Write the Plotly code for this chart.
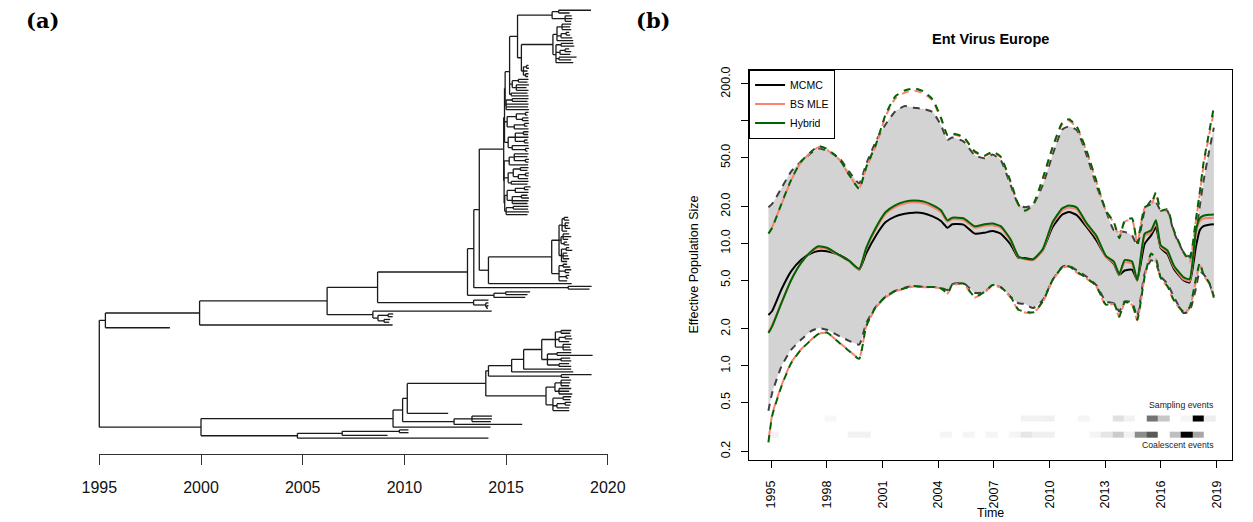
import plotly.graph_objects as go

W, H = 1253, 522

# ---------------- panel (a): dated tree ----------------
# internal node = [date, child, child, ...]; tip = sampling date
T1 = [2017.26, [2017.58, 2019.17, 2018.12], [2017.9, 2018.22, 2018.25, 2018.2]]
T2 = [2017.3,
      [2017.5, [2017.75, 2018.2, 2018.15, 2018.2], [2017.7, [2017.95, 2018.1, 2018.15], 2018.25], 2018.3],
      [2017.45, [2017.7, 2018.3, 2018.35], [2017.65, [2017.9, 2018.1, 2018.2], 2018.15], [2017.6, 2018.46, 2018.2], 2018.3]]
R_ = [2015.75, T2, [2015.85, [2016.0, 2016.1, 2016.12], 2016.05, [2015.95, 2016.1, 2016.08]]]
Q_ = [2015.56, T1, R_]
UP = [2015.17, Q_, [2015.3, [2015.6, 2016.1, 2016.05], [2015.5, 2016.12, 2016.0, 2016.1]], [2015.25, 2016.05, 2016.1]]
M1 = [2015.0, [2015.3, 2016.1, 2016.05], 2016.1, 2016.08, 2016.12]
M2 = [2015.05, [2015.5, [2015.95, 2016.1, 2016.05], [2015.8, 2016.1, 2016.1]], [2015.4, [2015.9, 2016.12, 2016.05], 2016.1]]
M3 = [2015.1, [2015.45, [2015.85, 2016.1, 2016.08], 2016.1, [2015.9, 2016.05, 2016.1]], [2015.3, 2016.1, [2015.95, 2016.12, 2016.05]]]
M4 = [2015.15, [2015.4, 2016.1, 2016.05, [2015.95, 2016.12, 2016.1]], 2016.08]
M5 = [2015.1, [2015.35, [2015.7, 2016.1, 2016.05], [2015.6, [2015.95, 2016.12, 2016.1], 2016.08]], [2015.25, 2016.1, 2016.05]]
M6 = [2015.05, [2015.45, [2015.9, 2016.2, 2016.1], 2016.1], [2015.3, [2015.75, 2016.05, 2016.12], 2016.1, 2016.05]]
M7 = [2015.0, [2015.35, 2016.1, 2016.08], 2016.12, 2016.05]
BIG = [2014.88, [2014.92, [2014.95, UP, M1], M2, M3], [2014.9, M4, M5, [2014.93, M6, M7]]]
C20 = [2017.24,
       [2017.6,
        [2017.75, [2017.85, 2018.05, 2018.1], [2017.9, 2018.1, 2018.05, 2018.15], 2018.0],
        [2017.7, [2017.8, 2018.1, 2018.2, 2018.05], [2017.85, 2018.0, 2018.1]],
        [2017.72, [2017.95, 2018.1, 2018.25], [2017.8, 2018.0, 2018.05, 2018.1], 2018.0]],
       [2017.6, [2017.8, 2018.0, 2018.15], [2017.9, 2018.2, 2018.1], [2017.95, 2018.1, 2018.05], 2018.0]]
A10 = [2014.13, C20, 2018.22]
A9 = [2013.68, BIG, A10]
A7 = [2013.41, A9, [2018.05, 2019.2, 2019.1]]
A8 = [2014.4, [2014.98, 2016.18, 2016.05], 2015.94]
A5 = [2013.1, A7, A8]
A6 = [2013.4, 2014.13, [2014.0, 2014.13, [2014.05, 2014.13, 2014.1]]]
A3 = [2008.68, A5, A6]
A4 = [2008.45, 2014.29, [2008.7, [2009.2, 2009.45, 2009.42], [2009.0, 2009.3, 2009.25]]]
A2 = [2006.2, A3, A4]
A1 = [1999.93, A2, 2009.42]
A_ = [1995.3, A1, 1998.47]

C14 = [2016.75,
       [2017.42, [2017.7, 2018.2, 2018.15], [2017.6, [2017.9, 2018.2, 2018.25], 2018.1], [2017.8, 2018.2, 2018.15, 2018.2]],
       [2017.03, [2017.5, 2018.2, 2019.25], [2017.7, 2018.15, 2018.2], [2017.6, 2018.1, 2018.2]]]
B8 = [2015.86, C14, 2018.2]
B9 = [2015.27, B8, 2018.3]
B7 = [2014.13, B9, [2017.71, 2019.2, 2018.1]]
C15 = [2016.96,
       [2017.4, [2017.7, 2018.2, 2018.15, 2018.1], [2017.6, 2018.2, 2018.1, 2018.25]],
       [2017.3, [2017.8, 2018.2, 2018.15], [2017.5, [2017.9, 2018.2, 2018.15], 2018.1], 2018.1]]
B6 = [2014.0, B7, C15]
B4 = [2010.14, B6, 2012.15]
B5 = [2012.44, [2013.32, 2014.3, 2014.3, 2014.25], 2015.79]
B3 = [2009.91, B4, B5]
B1 = [2009.44, B3, 2014.23]
B2 = [2004.74, [2006.94, [2009.75, 2010.2, 2010.2], 2009.17], 2014.13]
B_ = [2000.0, B1, B2]
TREE = [1995.0, A_, B_]

TREE_TICKS = [1995, 2000, 2005, 2010, 2015, 2020]

# ---------------- panel (b): skyline ----------------
YEARS = [1994.85, 1995.05, 1995.55, 1996.07, 1996.6, 1997.12, 1997.55, 1998.0, 1998.69, 1999.2,
         1999.74, 2000.12, 2000.65, 2001.17, 2001.7, 2002.2, 2002.7, 2003.2, 2003.7, 2004.15,
         2004.5, 2004.76, 2005.36, 2005.97, 2006.49, 2006.93, 2007.37, 2007.9, 2008.33, 2008.68,
         2009.12, 2009.64, 2010.16, 2010.69, 2011.05, 2011.47, 2012.0, 2012.52, 2013.04, 2013.47,
         2013.76, 2014.05, 2014.45, 2014.73, 2015.13, 2015.48, 2015.74, 2016.0, 2016.35, 2016.7,
         2017.22, 2017.55, 2017.9, 2018.1, 2018.3, 2018.6, 2018.86]
MCMC_MED = [2.6, 2.8, 4.2, 5.9, 7.3, 8.25, 8.65, 8.6, 8.0, 7.2,
            6.1, 8.3, 11.6, 14.9, 16.6, 17.4, 17.8, 17.6, 16.6, 15.2,
            13.4, 14.3, 14.2, 12.0, 12.2, 12.6, 12.0, 9.8, 7.6, 7.6,
            7.4, 8.8, 13.5, 17.2, 18.0, 17.0, 13.6, 10.6, 7.8, 6.8,
            5.5, 6.0, 6.1, 5.0, 9.9, 11.6, 13.5, 9.1, 8.2, 6.2,
            5.0, 4.8, 9.5, 12.8, 13.8, 14.2, 14.3]
BS_MED = [1.9, 2.15, 3.3, 5.0, 6.9, 8.4, 9.2, 9.0, 7.9, 7.1,
          6.1, 9.0, 13.1, 17.4, 19.8, 21.1, 21.6, 21.2, 19.8, 18.0,
          15.0, 15.7, 15.5, 13.4, 13.9, 14.0, 13.4, 10.5, 7.7, 7.4,
          7.3, 8.8, 14.3, 18.6, 19.6, 18.9, 14.1, 11.2, 7.7, 6.9,
          5.5, 7.0, 6.8, 4.9, 11.5, 12.3, 14.8, 9.3, 8.5, 6.4,
          5.1, 4.9, 12.4, 15.1, 15.9, 16.1, 16.2]
HY_MED = [1.85, 2.1, 3.25, 5.0, 6.9, 8.5, 9.45, 9.2, 8.0, 7.2,
          6.2, 9.2, 13.5, 18.0, 20.5, 21.9, 22.4, 22.0, 20.5, 18.6,
          15.4, 16.2, 16.0, 13.8, 14.3, 14.5, 13.8, 10.8, 7.8, 7.5,
          7.4, 9.0, 14.8, 19.3, 20.4, 19.6, 14.6, 11.6, 7.9, 7.1,
          5.6, 7.3, 7.1, 5.0, 12.0, 12.8, 15.4, 9.6, 8.8, 6.6,
          5.3, 5.1, 13.0, 16.0, 16.8, 17.1, 17.2]
MCMC_HI = [19.7, 21.0, 28.2, 38.5, 46.4, 54.2, 59.4, 57.0, 49.4, 38.5,
           30.9, 44.4, 68.6, 93.7, 120, 132, 128, 125, 118, 92,
           70, 73, 68, 52.5, 49.4, 53, 47.8, 30, 20.7, 19.7,
           20.7, 30, 52.5, 85, 90, 84, 52.5, 30, 18.5, 12.8,
           12.6, 12.4, 11.6, 9.6, 18.5, 22.3, 21.7, 18.5, 18.5, 12.4,
           8.5, 7.8, 12.4, 20, 32, 56, 88]
MCMC_LO = [0.43, 0.60, 0.99, 1.35, 1.63, 1.91, 2.03, 1.97, 1.74, 1.6,
           1.49, 2.23, 3.05, 3.67, 4.1, 4.35, 4.48, 4.4, 4.4, 4.35,
           4.15, 4.65, 4.75, 3.95, 4.0, 4.56, 4.4, 3.67, 3.24, 3.2,
           2.96, 3.45, 5.0, 6.43, 6.6, 6.0, 5.34, 4.56, 3.35, 3.24,
           2.78, 3.35, 3.3, 2.53, 5.67, 7.28, 6.84, 5.34, 4.7, 3.67,
           2.7, 2.8, 4.33, 5.9, 5.6, 4.8, 3.6]
BS_HI = [12.2, 13.6, 20.8, 32.5, 45.8, 55.0, 61.0, 58.0, 47.8, 36.0,
         28.2, 41.0, 63.0, 109, 153, 170, 176, 168, 146, 104,
         76, 77.5, 73, 55.5, 51.5, 55, 50.5, 31.5, 20.5, 18.3,
         20.5, 33.5, 59, 94, 100, 88, 56, 32, 18.3, 14.7,
         11.2, 15.0, 15.6, 10.2, 19.4, 20.6, 25.0, 18.3, 18.8, 12.6,
         8.4, 7.0, 15.4, 25, 43, 76, 118]
BS_LO = [0.24, 0.40, 0.69, 1.06, 1.36, 1.62, 1.82, 1.86, 1.54, 1.33,
         1.16, 2.1, 3.0, 3.62, 4.05, 4.28, 4.45, 4.38, 4.38, 4.28,
         3.9, 4.55, 4.65, 3.62, 3.97, 4.5, 4.35, 3.62, 2.84, 2.72,
         2.7, 3.3, 4.95, 6.3, 6.45, 5.8, 5.15, 4.45, 3.12, 3.2,
         2.5, 3.25, 3.15, 2.36, 5.3, 8.1, 7.4, 5.15, 4.45, 3.4,
         2.74, 2.95, 5.1, 6.8, 5.5, 4.7, 3.6]
HY_HI = [12.0, 13.4, 21.0, 32.9, 46.4, 55.5, 62.1, 59.0, 48.4, 36.2,
         27.9, 41.7, 64.5, 113, 159, 177, 184, 174, 150, 106,
         76.7, 78.7, 74, 56.3, 51.9, 56, 51, 32, 20.7, 18.5,
         20.7, 34, 60.5, 96.5, 103, 90, 56.9, 32.5, 18.5, 14.9,
         11.0, 15.2, 16.0, 10.0, 19.7, 21.0, 26.1, 18.5, 19.0, 12.8,
         8.5, 7.3, 16, 26, 45, 80, 129]
HY_LO = [0.237, 0.39, 0.68, 1.05, 1.35, 1.61, 1.82, 1.87, 1.53, 1.32,
         1.14, 2.1, 3.05, 3.67, 4.1, 4.3, 4.48, 4.4, 4.4, 4.3,
         3.9, 4.6, 4.7, 3.67, 4.0, 4.56, 4.4, 3.67, 2.87, 2.78,
         2.73, 3.35, 5.0, 6.35, 6.5, 5.86, 5.2, 4.5, 3.16, 3.24,
         2.53, 3.3, 3.2, 2.38, 5.34, 8.25, 7.5, 5.2, 4.5, 3.45,
         2.78, 3.0, 5.2, 6.9, 5.6, 4.8, 3.7]

# event-density strips (39 bins from 1994.81, bin width 0.619 yr); None = no events
BIN_START, BIN_WIDTH = 1994.81, 0.619
SAMPLING = [None, None, None, None, None, 0.03, None, None, None, None,
            None, None, None, None, None, None, None, None, None, None,
            None, None, 0.05, 0.05, 0.06, None, None, 0.04, None, None,
            0.12, 0.05, None, 0.55, 0.22, None, 0.04, 1.0, 0.07]
COALESCENT = [0.05, None, None, None, None, None, None, 0.05, 0.05, None,
              None, None, None, None, None, 0.04, None, 0.04, None, 0.04,
              None, 0.04, 0.1, 0.06, 0.06, None, None, None, 0.04, 0.1,
              0.2, 0.05, 0.45, 0.65, None, 0.25, 1.0, 0.35, None]
X2_TICKS = list(range(1995, 2020, 3))
Y2_TICKS = [0.2, 0.5, 1, 2, 5, 10, 20, 50, 100, 200]
Y2_TEXT = ["0.2", "0.5", "1.0", "2.0", "5.0", "10.0", "20.0", "50.0", "", "200.0"]

# ---------------- helpers ----------------
def tree_segments(root):
    xs, ys = [], []
    count = [0]

    def rec(n, parent_t):
        if isinstance(n, list):
            t = n[0]
            cy = [rec(c, t) for c in n[1:]]
            y = sum(cy) / len(cy)
            xs.extend([t, t, None]); ys.extend([cy[0], cy[-1], None])
        else:
            t = n
            y = count[0]; count[0] += 1
        if parent_t is not None:
            xs.extend([parent_t, t, None]); ys.extend([y, y, None])
        return y

    rec(root, None)
    return xs, ys, count[0]

FONT = "Liberation Sans, Arial, Helvetica, sans-serif"
px = lambda p: p / W
py = lambda p: 1 - p / H

fig = go.Figure()

# tree
tx, ty, ntips = tree_segments(TREE)
fig.add_trace(go.Scatter(x=tx, y=ty, mode="lines", line=dict(color="#1a1a1a", width=1.3),
                         xaxis="x", yaxis="y", showlegend=False, hoverinfo="skip"))
# empty trace so that the time axis of panel (a) is drawn
fig.add_trace(go.Scatter(x=[], y=[], xaxis="x3", yaxis="y3", showlegend=False, hoverinfo="skip"))

# strips
edges = [BIN_START + BIN_WIDTH * i for i in range(len(SAMPLING) + 1)]
gray = [[0, "#ffffff"], [1, "#000000"]]
for vals, (lo, hi) in [(SAMPLING, (0.3534, 0.3930)), (COALESCENT, (0.2606, 0.2899))]:
    fig.add_trace(go.Heatmap(x=edges, y=[lo, hi], z=[vals], zmin=0, zmax=1, colorscale=gray,
                             showscale=False, hoverinfo="skip", xaxis="x2", yaxis="y2"))

sm = dict(shape="spline", smoothing=0.5)
# MCMC credible band
fig.add_trace(go.Scatter(x=YEARS, y=MCMC_LO, mode="lines", line=dict(width=0, **sm),
                         xaxis="x2", yaxis="y2", showlegend=False, hoverinfo="skip"))
fig.add_trace(go.Scatter(x=YEARS, y=MCMC_HI, mode="lines", line=dict(width=0, **sm), fill="tonexty",
                         fillcolor="#d3d3d3", xaxis="x2", yaxis="y2", showlegend=False, hoverinfo="skip"))

def dashed(y, color, dash):
    fig.add_trace(go.Scatter(x=YEARS, y=y, mode="lines", line=dict(color=color, width=2, dash=dash, **sm),
                             xaxis="x2", yaxis="y2", showlegend=False, hoverinfo="skip"))

for y in (MCMC_HI, MCMC_LO):
    dashed(y, "#404040", "7px,6px")
for y in (BS_HI, BS_LO):
    dashed(y, "#fa8072", "0px,6px,7px,0px")
for y in (HY_HI, HY_LO):
    dashed(y, "#006400", "7px,6px")

for name, y, color in [("MCMC", MCMC_MED, "#000000"), ("BS MLE", BS_MED, "#fa8072"),
                       ("Hybrid", HY_MED, "#006400")]:
    fig.add_trace(go.Scatter(x=YEARS, y=y, mode="lines", name=name, line=dict(color=color, width=2, **sm),
                             xaxis="x2", yaxis="y2", hoverinfo="skip"))

# axes geometry (pixels)
ppy_a = (607.3 - 83.7) / 25.0
xr1 = [1995 - (83.7 - 60) / ppy_a, 2020 + (630 - 607.3) / ppy_a]
s_tip = (437.7 - 7.3) / (ntips - 1)
yr1 = [(H - 7.3) / s_tip, -7.3 / s_tip]

ppy_b = 19.1
xr2 = [1995 - (775.5 - 752.7) / ppy_b, 1995 + (1250 - 775.5) / ppy_b]
yr2 = [-0.766, 2.418]

tickfont_b = dict(family=FONT, size=12.5, color="#000")
fig.update_layout(
    width=W, height=H, margin=dict(l=0, r=0, t=0, b=0),
    paper_bgcolor="white", plot_bgcolor="rgba(0,0,0,0)",
    xaxis=dict(domain=[px(60), px(630)], range=xr1, visible=False, anchor="y"),
    yaxis=dict(domain=[0, 1], range=yr1, visible=False, anchor="x"),
    xaxis3=dict(domain=[px(83.7), px(607.3)], range=[1995, 2020], anchor="y3",
                showline=True, linecolor="#333", linewidth=1, ticks="outside", ticklen=10,
                tickcolor="#333", tickwidth=1, tickvals=TREE_TICKS, showgrid=False, zeroline=False,
                tickfont=dict(family=FONT, size=16, color="#111"), ticklabelstandoff=8),
    yaxis3=dict(domain=[1 - 454 / H, 0.95], visible=False, anchor="x3", range=[0, 1]),
    xaxis2=dict(domain=[px(752.7), px(1250)], range=xr2, anchor="y2", showline=True, mirror=True,
                linecolor="#000", linewidth=1, ticks="outside", ticklen=7, tickcolor="#000",
                tickvals=X2_TICKS, tickangle=-90, showgrid=False, zeroline=False,
                tickfont=tickfont_b, ticklabelstandoff=8),
    yaxis2=dict(domain=[1 - 459.3 / H, 1 - 67 / H], type="log", range=yr2, anchor="x2",
                showline=True, mirror=True, linecolor="#000", linewidth=1, ticks="outside",
                ticklen=7, tickcolor="#000", tickvals=Y2_TICKS, ticktext=Y2_TEXT, tickangle=-90,
                showgrid=False, zeroline=False, tickfont=tickfont_b, ticklabelstandoff=6),
    legend=dict(x=px(752.7), y=py(67), xanchor="left", yanchor="top", bgcolor="white",
                bordercolor="#000", borderwidth=1, font=dict(family=FONT, size=10.5, color="#000"),
                itemwidth=30, tracegroupgap=0, traceorder="normal"),
    showlegend=True,
)

ann = [
    dict(text="<b>(a)</b>", x=px(6), y=py(18), xanchor="left", yanchor="middle",
         font=dict(family="DejaVu Serif", size=21, color="#000")),
    dict(text="<b>(b)</b>", x=px(634), y=py(18), xanchor="left", yanchor="middle",
         font=dict(family="DejaVu Serif", size=21, color="#000")),
    dict(text="<b>Ent Virus Europe</b>", x=px(1001), y=py(36), xanchor="center", yanchor="middle",
         font=dict(family=FONT, size=14.5, color="#000")),
    dict(text="Time", x=px(1001), y=py(513), xanchor="center", yanchor="middle",
         font=dict(family=FONT, size=12.5, color="#000")),
    dict(text="Effective Population Size", x=px(696), y=py(263), xanchor="center", yanchor="middle",
         textangle=-90, font=dict(family=FONT, size=12.5, color="#000")),
    dict(text="Sampling events", x=px(1233), y=py(404.7), xanchor="right", yanchor="middle",
         font=dict(family=FONT, size=8.7, color="#222")),
    dict(text="Coalescent events", x=px(1233), y=py(444.7), xanchor="right", yanchor="middle",
         font=dict(family=FONT, size=8.7, color="#222")),
]
for a in ann:
    a.update(xref="paper", yref="paper", showarrow=False)
fig.update_layout(annotations=ann)

fig.write_html("out.html", config={"displayModeBar": False},
               post_script="document.body.style.margin='0';document.body.style.padding='0';")
